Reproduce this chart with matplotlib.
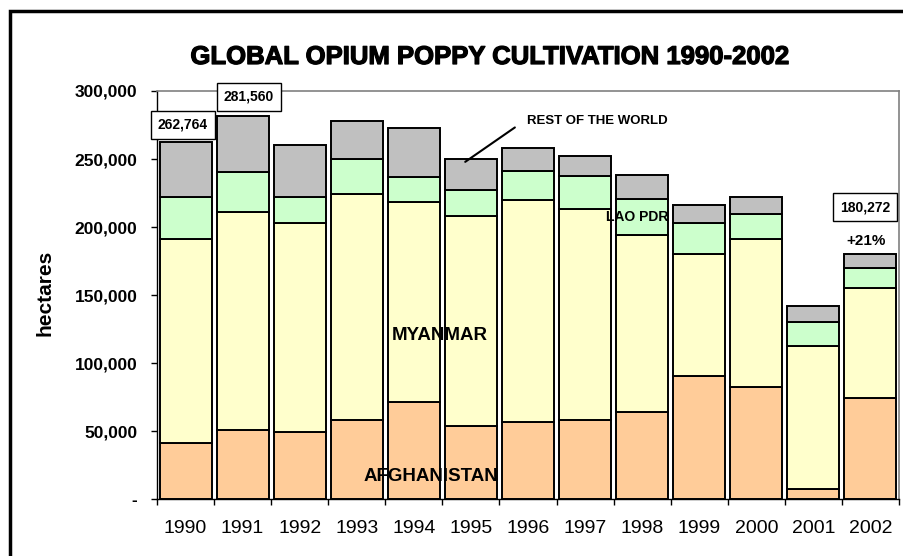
import matplotlib
matplotlib.use("Agg")
import matplotlib.pyplot as plt
import matplotlib.ticker as mticker
import matplotlib.patheffects as pe
from matplotlib.patches import Rectangle
import numpy as np

plt.rcParams['font.family'] = ['Liberation Sans', 'DejaVu Sans']

years = ["1990", "1991", "1992", "1993", "1994", "1995", "1996",
         "1997", "1998", "1999", "2000", "2001", "2002"]
afghanistan = [41300, 50800, 49300, 58300, 71470, 53759, 56824,
               58416, 63674, 90583, 82171, 7606, 74100]
myanmar = [150100, 160000, 153700, 165800, 146600, 154070, 163000,
           155150, 130300, 89500, 108700, 105000, 81400]
lao_pdr = [30580, 29625, 19190, 26040, 18520, 19650, 21601,
           24082, 26837, 22543, 19052, 17255, 14000]
rest_of_world = [40784, 41135, 37900, 27900, 36000, 22800, 16500,
                 14850, 17500, 13600, 12200, 12250, 10772]

series = [
    ("AFGHANISTAN", afghanistan, "#FFCC99"),
    ("MYANMAR", myanmar, "#FFFFCC"),
    ("LAO PDR", lao_pdr, "#CCFFCC"),
    ("REST OF THE WORLD", rest_of_world, "#C0C0C0"),
]

W, H = 904, 556
fig = plt.figure(figsize=(W / 100, H / 100), dpi=100)
ax = fig.add_axes([157 / W, (H - 499) / H, 742 / W, 408 / H])

x = np.arange(len(years))
bottom = np.zeros(len(years))
for name, vals, col in series:
    v = np.array(vals, dtype=float)
    ax.bar(x, v, width=0.91, bottom=bottom, color=col, edgecolor="black",
           linewidth=1.4, zorder=2)
    bottom += v
totals = bottom

ax.set_xlim(-0.5, len(years) - 0.5)
ax.set_ylim(0, 300000)
ax.set_yticks(np.arange(0, 300001, 50000))
ax.yaxis.set_major_formatter(mticker.FuncFormatter(
    lambda v, p: "-" if v == 0 else f"{int(v):,}"))
ax.tick_params(axis="y", direction="out", length=4, width=1, pad=10,
               labelsize=12.5, colors="black")
for lab in ax.get_yticklabels():
    lab.set_fontweight("bold")

ax.set_xticks(np.arange(-0.5, len(years), 1))
ax.set_xticklabels([])
ax.set_xticks(x, minor=True)
ax.set_xticklabels(years, minor=True, fontsize=14)
ax.tick_params(axis="x", which="major", direction="out", length=4, width=1)
ax.tick_params(axis="x", which="minor", length=0, pad=15)

for s in ["top", "right"]:
    ax.spines[s].set_color("#808080")
    ax.spines[s].set_linewidth(1.2)
for s in ["left", "bottom"]:
    ax.spines[s].set_color("black")
    ax.spines[s].set_linewidth(1)

# Total labels
box = dict(boxstyle="square,pad=0.5", fc="white", ec="black", lw=1)
ax.text(-0.05, 275300, f"{totals[0]:,.0f}", ha="center", va="center",
        fontsize=10, fontweight="bold", bbox=box, zorder=5, clip_on=False)
ax.text(1.11, 295800, f"{totals[1]:,.0f}", ha="center", va="center",
        fontsize=10, fontweight="bold", bbox=box, zorder=5, clip_on=False)
ax.text(11.91, 214600, f"{totals[-1]:,.0f}", ha="center", va="center",
        fontsize=10, fontweight="bold", bbox=box, zorder=5, clip_on=False)
ax.text(11.92, 189600, "+21%", ha="center", va="center",
        fontsize=11, fontweight="bold", zorder=5)

# Series labels
ax.text(4.46, 120500, "MYANMAR", ha="center", va="center",
        fontsize=13.5, fontweight="bold", zorder=5)
ax.text(4.30, 16900, "AFGHANISTAN", ha="center", va="center",
        fontsize=13.5, fontweight="bold", zorder=5)
ax.text(7.91, 207300, "LAO PDR", ha="center", va="center",
        fontsize=10, fontweight="bold", zorder=5)
ax.text(5.98, 277800, "REST OF THE WORLD", ha="left", va="center",
        fontsize=9.5, fontweight="bold", zorder=5)
ax.annotate("", xy=(4.9, 247900), xytext=(5.77, 273200),
            arrowprops=dict(arrowstyle="-", lw=1.5, color="black",
                            shrinkA=0, shrinkB=0), zorder=5)

fig.text(490 / W, (H - 57) / H, "GLOBAL OPIUM POPPY CULTIVATION 1990-2002",
         ha="center", va="center", fontsize=18.5, fontweight="bold",
         path_effects=[pe.withStroke(linewidth=0.9, foreground="black")])
fig.text(45 / W, (H - 293) / H, "hectares", rotation=90, ha="center",
         va="center", fontsize=15, fontweight="bold")

# Outer frame (extends beyond right/bottom edges)
fig.add_artist(Rectangle((10 / W, -0.1), 1.2, (H - 11) / H + 0.1,
                         transform=fig.transFigure, fill=False,
                         ec="black", lw=2.5, clip_on=False))

fig.savefig("out.png", dpi=100)
